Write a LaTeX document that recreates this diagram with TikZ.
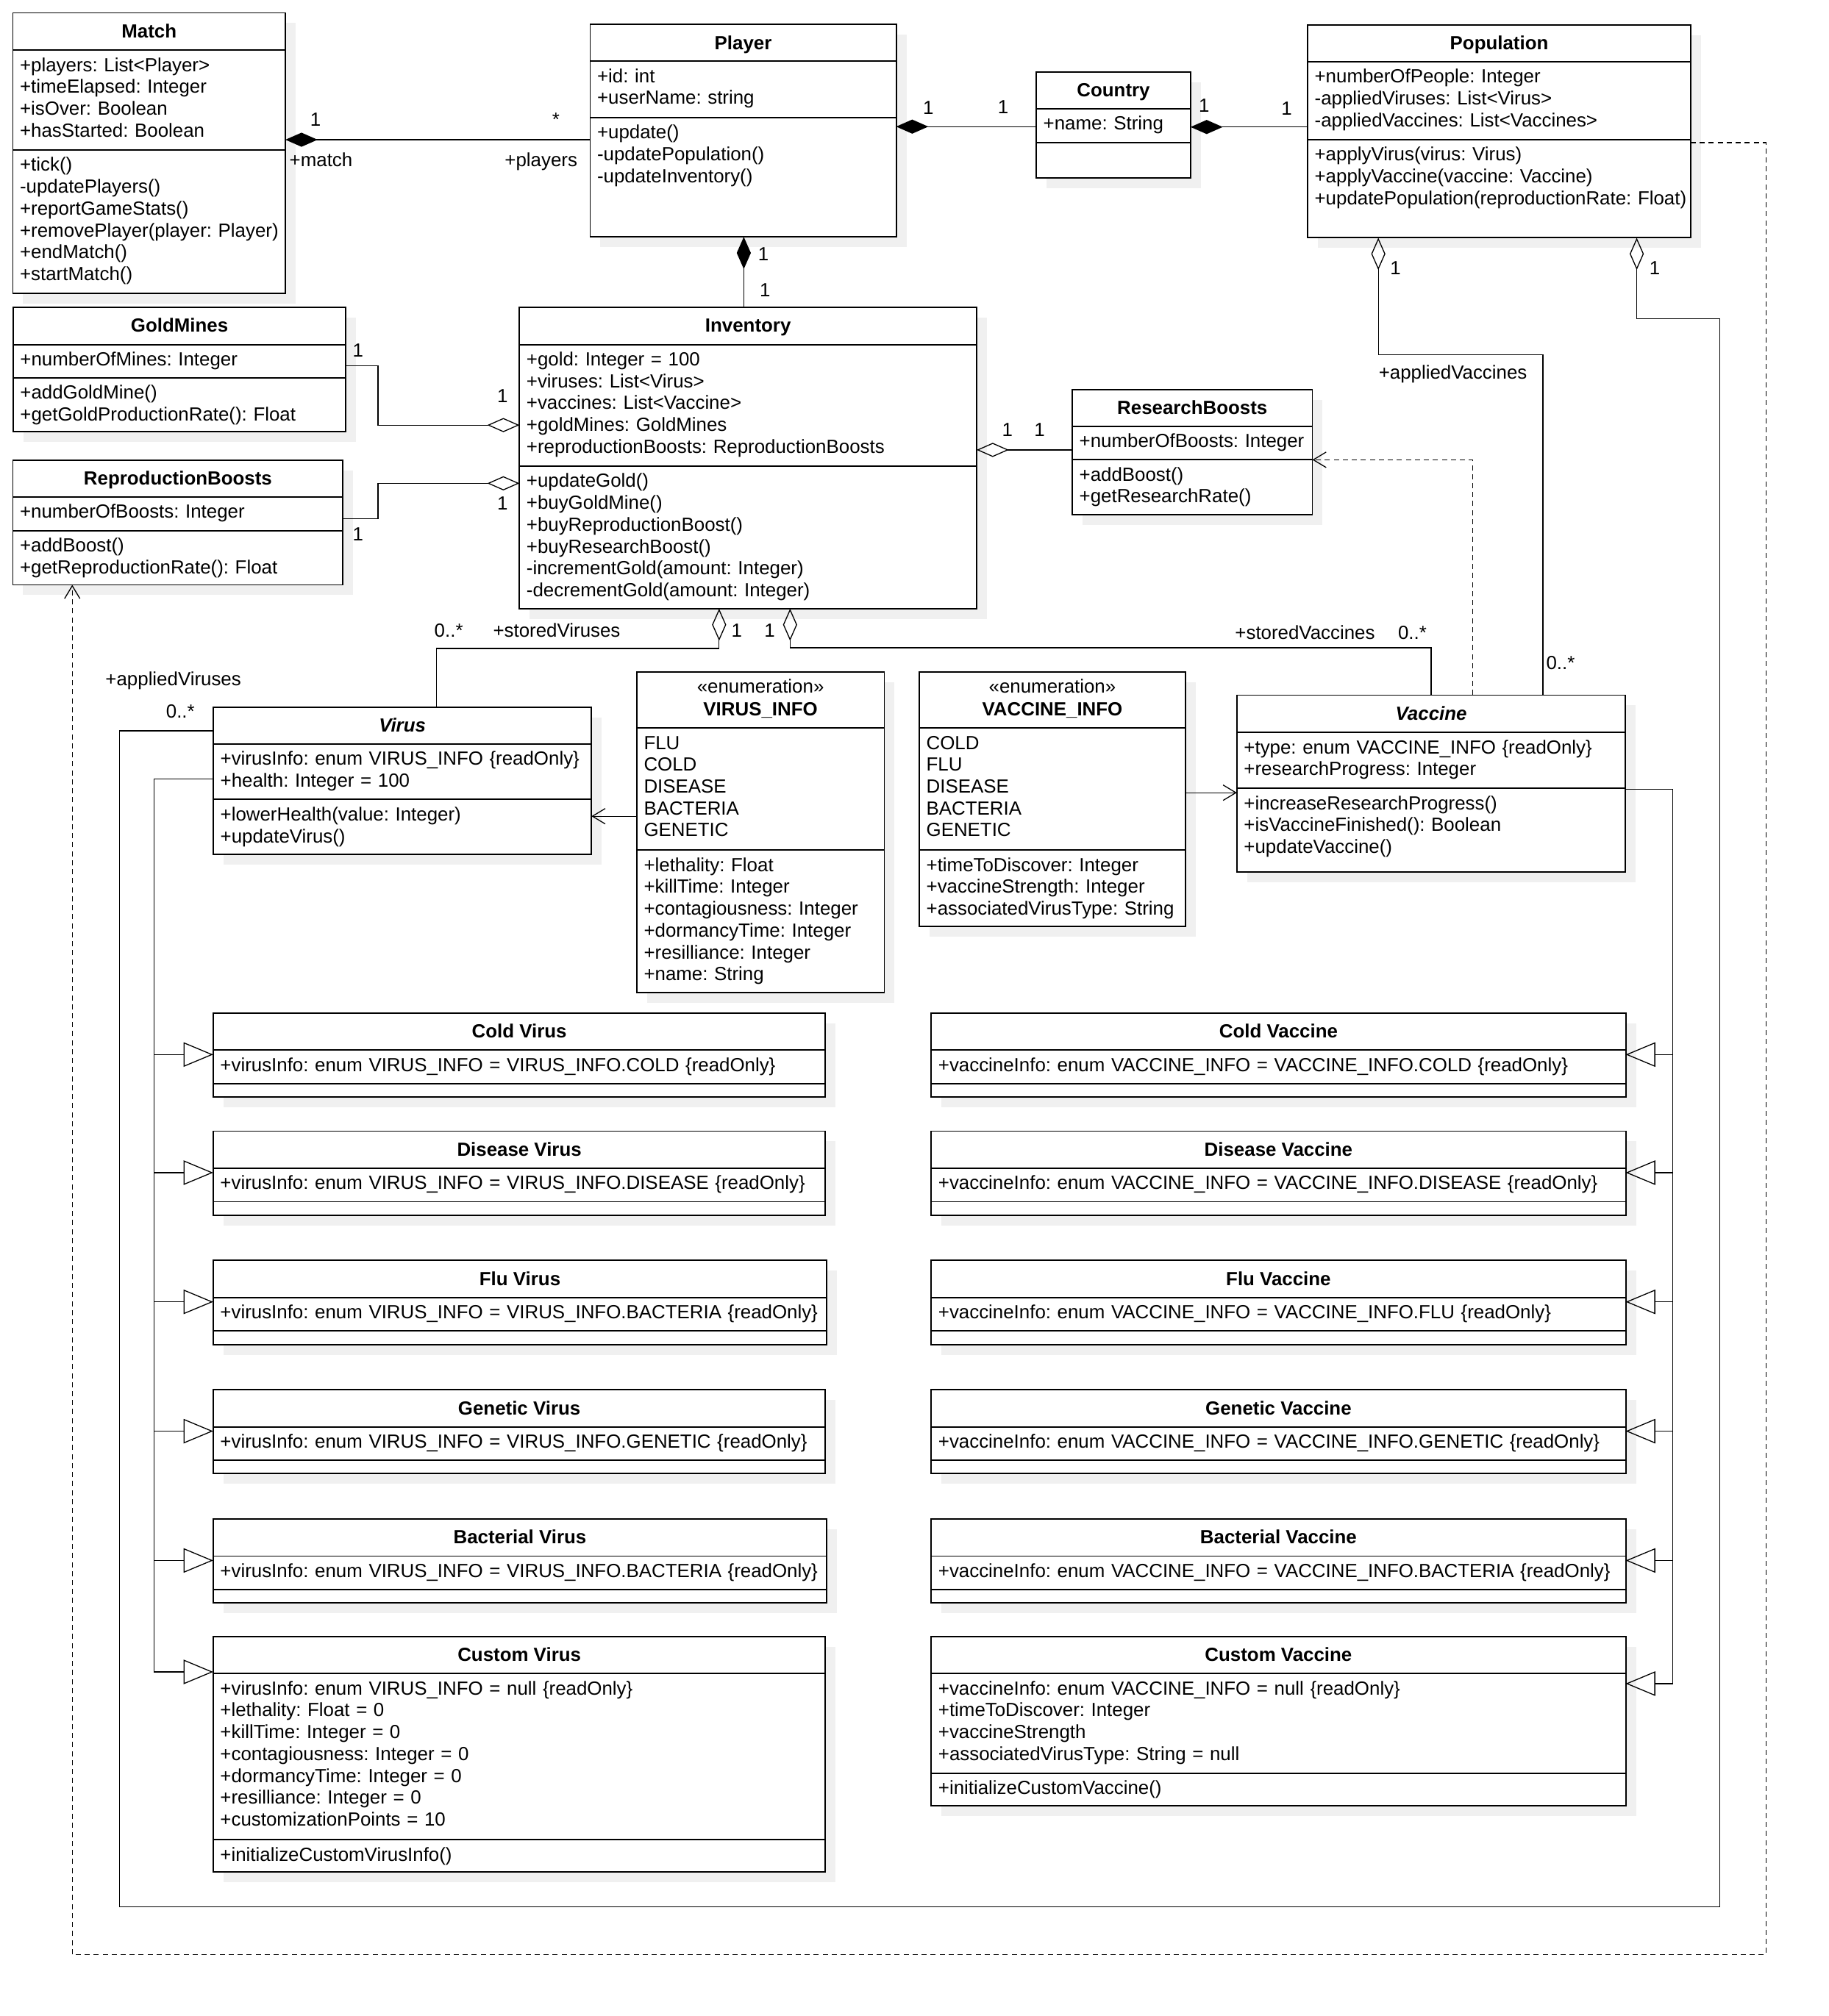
\documentclass[tikz,border=0pt]{standalone}
\usepackage{fontspec}
\setmainfont{Liberation Sans}
\frenchspacing
\usetikzlibrary{arrows.meta,calc}
\definecolor{shadowc}{RGB}{240,240,240}
\tikzset{
  boxline/.style={line width=1.1pt},
  umlbox/.style={draw, line width=1.1pt, fill=white, inner sep=0pt, outer sep=0pt, anchor=north west},
  conn/.style={line width=0.75pt},
  depline/.style={dash pattern=on 4pt off 3pt},
  txt/.style={inner sep=0pt, outer sep=0pt, anchor=base west, text width=600pt, align=left, font=\fontsize{14.8}{17}\selectfont},
  ttl/.style={inner sep=0pt, anchor=base, font=\fontsize{14.8}{17}\selectfont\bfseries},
  lbl/.style={inner sep=0pt, anchor=base, font=\fontsize{14.8}{17}\selectfont},
  compo/.style={arrows={Diamond[length=25pt,width=11pt]-}},
  aggr/.style={arrows={Diamond[open,length=25pt,width=11pt]-}},
  navig/.style={arrows={-Straight Barb[length=10pt,width=12pt]}},
  gener/.style={arrows={-Triangle[open,length=23pt,width=19pt]}}
}
% #1 name, #2 x1, #3 y1, #4 x2, #5 y2, #6 header divider, #7 attribute divider
\newcommand\umlframe[7]{%
  \fill[shadowc] (#2+8,#3+8) rectangle (#4+8,#5+8);
  \node[umlbox, minimum width={(#4)-(#2)}, minimum height={(#5)-(#3)}] (#1) at (#2,#3) {};
  \draw[boxline] (#2,#6) -- (#4,#6);
  \draw[boxline] (#2,#7) -- (#4,#7);
}
\newcommand\umlcls[8]{%
  \umlframe{#1}{#2}{#3}{#4}{#5}{#6}{#7}
  \node[ttl] (#1-t) at ({((#2)+(#4))/2},{((#3)+(#6))/2+5}) {#8};
}
% subclass: #1 name, #2 x1, #3 x2, #4 top, #5 title, #6 attribute text
\newcommand\subcls[6]{%
  \umlcls{#1}{#2}{#4}{#3}{#4+65.4}{#4+28.9}{#4+54.9}{#5}
  \node[txt] (#1-a) at (#2+5.5,#4+45.4) {#6};
}
\begin{document}
\frenchspacing
\begin{tikzpicture}[x=1pt,y=-1pt]
\useasboundingbox (0,0) rectangle (1422,1568.4);
\fill[white] (0,0) rectangle (1422,1568.4);

% ---------------- classes ----------------
\umlcls{match}{10}{10}{222}{228}{39}{116.7}{Match}
\node[txt] (match-a) at (15.5,55.5) {+players: List<Player>\\+timeElapsed: Integer\\+isOver: Boolean\\+hasStarted: Boolean};
\node[txt] (match-m) at (15.5,133.2) {+tick()\\-updatePlayers()\\+reportGameStats()\\+removePlayer(player: Player)\\+endMatch()\\+startMatch()};

\umlcls{player}{459}{19}{697}{184.3}{47.7}{91.5}{Player}
\node[txt] (player-a) at (464.5,64.2) {+id: int\\+userName: string};
\node[txt] (player-m) at (464.5,108) {+update()\\-updatePopulation()\\-updateInventory()};

\umlcls{country}{806}{56}{926}{138.3}{84.4}{111}{Country}
\node[txt] (country-a) at (811.5,100.9) {+name: String};

\umlcls{population}{1017}{19.4}{1315}{185}{48}{108.7}{Population}
\node[txt] (population-a) at (1022.5,64.5) {+numberOfPeople: Integer\\-appliedViruses: List<Virus>\\-appliedVaccines: List<Vaccines>};
\node[txt] (population-m) at (1022.5,125.2) {+applyVirus(virus: Virus)\\+applyVaccine(vaccine: Vaccine)\\+updatePopulation(reproductionRate: Float)};

\umlcls{goldmines}{10.2}{239}{269}{336}{268}{294}{GoldMines}
\node[txt] (goldmines-a) at (15.7,284.5) {+numberOfMines: Integer};
\node[txt] (goldmines-m) at (15.7,310.5) {+addGoldMine()\\+getGoldProductionRate(): Float};

\umlcls{inventory}{404}{239}{759.6}{473.5}{268}{362.7}{Inventory}
\node[txt] (inventory-a) at (409.5,284.5) {+gold: Integer = 100\\+viruses: List<Virus>\\+vaccines: List<Vaccine>\\+goldMines: GoldMines\\+reproductionBoosts: ReproductionBoosts};
\node[txt] (inventory-m) at (409.5,379.2) {+updateGold()\\+buyGoldMine()\\+buyReproductionBoost()\\+buyResearchBoost()\\-incrementGold(amount: Integer)\\-decrementGold(amount: Integer)};

\umlcls{repboosts}{10}{358}{266.7}{455}{386.7}{413}{ReproductionBoosts}
\node[txt] (repboosts-a) at (15.5,403.2) {+numberOfBoosts: Integer};
\node[txt] (repboosts-m) at (15.5,429.5) {+addBoost()\\+getReproductionRate(): Float};

\umlcls{resboosts}{834}{303}{1020.7}{400.3}{331.8}{357.7}{ResearchBoosts}
\node[txt] (resboosts-a) at (839.5,348.3) {+numberOfBoosts: Integer};
\node[txt] (resboosts-m) at (839.5,374.2) {+addBoost()\\+getResearchRate()};

\umlcls{virus}{165.9}{550.2}{460}{664.6}{578.8}{622}{\textit{Virus}}
\node[txt] (virus-a) at (171.4,595.3) {+virusInfo: enum VIRUS\_INFO \{readOnly\}\\+health: Integer = 100};
\node[txt] (virus-m) at (171.4,638.5) {+lowerHealth(value: Integer)\\+updateVirus()};

\umlframe{virusinfo}{495.3}{522.8}{687.8}{772}{566.4}{661.4}
\node[lbl] (virusinfo-s) at (591.5,539.2) {«enumeration»};
\node[ttl] (virusinfo-t) at (591.5,556.6) {VIRUS\_INFO};
\node[txt] (virusinfo-e) at (500.8,582.9) {FLU\\COLD\\DISEASE\\BACTERIA\\GENETIC};
\node[txt] (virusinfo-a) at (500.8,677.9) {+lethality: Float\\+killTime: Integer\\+contagiousness: Integer\\+dormancyTime: Integer\\+resilliance: Integer\\+name: String};

\umlframe{vaccineinfo}{715}{522.9}{922}{720.6}{566.4}{661.4}
\node[lbl] (vaccineinfo-s) at (818.5,539.2) {«enumeration»};
\node[ttl] (vaccineinfo-t) at (818.5,556.6) {VACCINE\_INFO};
\node[txt] (vaccineinfo-e) at (720.5,582.9) {COLD\\FLU\\DISEASE\\BACTERIA\\GENETIC};
\node[txt] (vaccineinfo-a) at (720.5,677.9) {+timeToDiscover: Integer\\+vaccineStrength: Integer\\+associatedVirusType: String};

\umlcls{vaccine}{962}{540.8}{1264.3}{678.3}{569.8}{613.3}{\textit{Vaccine}}
\node[txt] (vaccine-a) at (967.5,586.3) {+type: enum VACCINE\_INFO \{readOnly\}\\+researchProgress: Integer};
\node[txt] (vaccine-m) at (967.5,629.8) {+increaseResearchProgress()\\+isVaccineFinished(): Boolean\\+updateVaccine()};

% subclasses
\subcls{coldvirus}{165.8}{642}{788.1}{Cold Virus}{+virusInfo: enum VIRUS\_INFO = VIRUS\_INFO.COLD \{readOnly\}}
\subcls{diseasevirus}{165.8}{642}{880}{Disease Virus}{+virusInfo: enum VIRUS\_INFO = VIRUS\_INFO.DISEASE \{readOnly\}}
\subcls{fluvirus}{165.8}{643}{980.5}{Flu Virus}{+virusInfo: enum VIRUS\_INFO = VIRUS\_INFO.BACTERIA \{readOnly\}}
\subcls{geneticvirus}{165.8}{642}{1081.1}{Genetic Virus}{+virusInfo: enum VIRUS\_INFO = VIRUS\_INFO.GENETIC \{readOnly\}}
\subcls{bactvirus}{165.8}{643}{1181.7}{Bacterial Virus}{+virusInfo: enum VIRUS\_INFO = VIRUS\_INFO.BACTERIA \{readOnly\}}

\subcls{coldvac}{724.3}{1264.4}{788.1}{Cold Vaccine}{+vaccineInfo: enum VACCINE\_INFO = VACCINE\_INFO.COLD \{readOnly\}}
\subcls{diseasevac}{724.3}{1264.4}{880}{Disease Vaccine}{+vaccineInfo: enum VACCINE\_INFO = VACCINE\_INFO.DISEASE \{readOnly\}}
\subcls{fluvac}{724.3}{1264.4}{980.5}{Flu Vaccine}{+vaccineInfo: enum VACCINE\_INFO = VACCINE\_INFO.FLU \{readOnly\}}
\subcls{geneticvac}{724.3}{1264.4}{1081.1}{Genetic Vaccine}{+vaccineInfo: enum VACCINE\_INFO = VACCINE\_INFO.GENETIC \{readOnly\}}
\subcls{bactvac}{724.3}{1264.4}{1181.7}{Bacterial Vaccine}{+vaccineInfo: enum VACCINE\_INFO = VACCINE\_INFO.BACTERIA \{readOnly\}}

\umlcls{customvirus}{165.8}{1273.3}{642}{1456.3}{1302}{1431.2}{Custom Virus}
\node[txt] (customvirus-a) at (171.3,1318.5) {+virusInfo: enum VIRUS\_INFO = null \{readOnly\}\\+lethality: Float = 0\\+killTime: Integer = 0\\+contagiousness: Integer = 0\\+dormancyTime: Integer = 0\\+resilliance: Integer = 0\\+customizationPoints = 10};
\node[txt] (customvirus-m) at (171.3,1447.7) {+initializeCustomVirusInfo()};

\umlcls{customvac}{724.3}{1273.3}{1264.4}{1405}{1302}{1379.6}{Custom Vaccine}
\node[txt] (customvac-a) at (729.8,1318.5) {+vaccineInfo: enum VACCINE\_INFO = null \{readOnly\}\\+timeToDiscover: Integer\\+vaccineStrength\\+associatedVirusType: String = null};
\node[txt] (customvac-m) at (729.8,1396.1) {+initializeCustomVaccine()};

% ---------------- connectors ----------------
\draw[conn, compo] (match.east |- 0,108.7) -- (player.west |- 0,108.7);
\draw[conn, compo] (player.east |- 0,98.5) -- (country.west |- 0,98.5);
\draw[conn, compo] (country.east |- 0,98.8) -- (population.west |- 0,98.8);
\draw[conn, compo] (player.south -| 578.5,0) -- (inventory.north -| 578.5,0);
\draw[conn, aggr] (inventory.west |- 0,330.7) -- (294,330.7) -- (294,284.7) -- (goldmines.east |- 0,284.7);
\draw[conn, aggr] (inventory.west |- 0,376) -- (294,376) -- (294,403.5) -- (repboosts.east |- 0,403.5);
\draw[conn, aggr] (inventory.east |- 0,350) -- (resboosts.west |- 0,350);
\draw[conn, aggr] (inventory.south -| 559.3,0) -- (559.3,504.5) -- (339.6,504.5) -- (virus.north -| 339.6,0);
\draw[conn, aggr] (inventory.south -| 614.5,0) -- (614.5,504) -- (1113,504) -- (vaccine.north -| 1113,0);
\draw[conn, aggr] (population.south -| 1072,0) -- (1072,275.8) -- (1200,275.8) -- (vaccine.north -| 1200,0);
\draw[conn, aggr] (population.south -| 1273,0) -- (1273,248) -- (1337.5,248) -- (1337.5,1483.6) -- (92.9,1483.6) -- (92.9,568.6) -- (virus.west |- 0,568.6);

\draw[conn, depline, navig] (population.east |- 0,111) -- (1373.6,111) -- (1373.6,1520.6) -- (56.2,1520.6) -- (repboosts.south -| 56.2,0);
\draw[conn, depline, navig] (vaccine.north -| 1145.3,0) -- (1145.3,357.7) -- (resboosts.east |- 0,357.7);

\draw[conn, navig] (virusinfo.west |- 0,635) -- (virus.east |- 0,635);
\draw[conn, navig] (vaccineinfo.east |- 0,616.7) -- (vaccine.west |- 0,616.7);

\foreach \sub/\yy in {coldvirus/820.4, diseasevirus/912.3, fluvirus/1012.8, geneticvirus/1113.4, bactvirus/1214, customvirus/1300.7}
  \draw[conn, gener] (virus.west |- 0,606) -- (120,606) -- (120,\yy) -- (\sub.west |- 0,\yy);
\foreach \sub/\yy in {coldvac/820.4, diseasevac/912.3, fluvac/1012.8, geneticvac/1113.4, bactvac/1214, customvac/1309.8}
  \draw[conn, gener] (vaccine.east |- 0,614) -- (1300.8,614) -- (1300.8,\yy) -- (\sub.east |- 0,\yy);

% ---------------- labels ----------------
\node[lbl] (l1) at (245.4,98.2) {1};
\node[lbl, anchor=base west] (l2) at (225,129.3) {+match};
\node[lbl] (l3) at (432.4,98.2) {*};
\node[lbl, anchor=base east] (l4) at (449.2,129.3) {+players};
\node[lbl] (l5) at (722,89) {1};
\node[lbl] (l6) at (780.2,88.5) {1};
\node[lbl] (l7) at (936.5,87) {1};
\node[lbl] (l8) at (1000.7,89.3) {1};
\node[lbl] (l9) at (593.8,203) {1};
\node[lbl] (l10) at (595,230.7) {1};
\node[lbl] (l11) at (278.4,277.5) {1};
\node[lbl] (l12) at (390.8,313.3) {1};
\node[lbl] (l13) at (390.8,396.6) {1};
\node[lbl] (l14) at (278.4,420.5) {1};
\node[lbl] (l15) at (783.5,339.6) {1};
\node[lbl] (l16) at (808.6,339.6) {1};
\node[lbl] (l17) at (349,495.8) {0..*};
\node[lbl] (l18) at (433,495.8) {+storedViruses};
\node[lbl] (l19) at (573,495.8) {1};
\node[lbl] (l20) at (598.6,495.8) {1};
\node[lbl] (l21) at (1015,497.5) {+storedVaccines};
\node[lbl] (l22) at (1098.5,497.5) {0..*};
\node[lbl] (l23) at (1085.4,213.5) {1};
\node[lbl] (l24) at (1287,213.5) {1};
\node[lbl] (l25) at (1130,295) {+appliedVaccines};
\node[lbl, anchor=base west] (l26) at (1202.4,520.6) {0..*};
\node[lbl] (l27) at (134.8,533.5) {+appliedViruses};
\node[lbl] (l28) at (140.3,558.4) {0..*};
\end{tikzpicture}
\end{document}
